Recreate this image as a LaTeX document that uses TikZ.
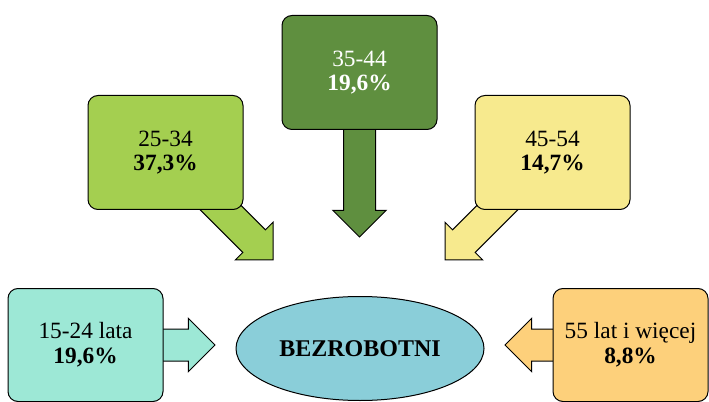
\documentclass[tikz,border=0pt]{standalone}
\usepackage{fontspec}
\setmainfont{Liberation Serif}
\usepackage{tikz}
\usetikzlibrary{calc}
\usetikzlibrary{shapes.geometric}
\tikzset{every picture/.style={line width=0.75pt}}
\definecolor{mint}{RGB}{157,232,214}
\definecolor{lime}{RGB}{164,207,80}
\definecolor{olive}{RGB}{95,143,63}
\definecolor{sand}{RGB}{247,234,142}
\definecolor{apricot}{RGB}{253,208,123}
\definecolor{lagoon}{RGB}{138,206,217}
% block arrow from #1 to #2, filled with #3
\newcommand{\blockarrow}[3]{%
  \draw[fill=#3] ($(#1)!12pt!90:(#2)$) -- ($(#2)!20pt!(#1)!12pt!-90:(#1)$)
    -- ($(#2)!20pt!(#1)!20pt!-90:(#1)$) -- (#2)
    -- ($(#2)!20pt!(#1)!20pt!90:(#1)$) -- ($(#2)!20pt!(#1)!12pt!90:(#1)$)
    -- ($(#1)!12pt!-90:(#2)$) -- cycle;}
\tikzset{agebox/.style={draw, rounded corners=7.5pt, minimum width=116.25pt,
    minimum height=85.5pt, align=center, inner sep=0.75pt,
    font=\fontsize{17.5}{18.5}\selectfont}}

\begin{document}
\begin{tikzpicture}[x=0.75pt,y=0.75pt,yscale=-1,xscale=1]
\useasboundingbox (0,0) rectangle (709,402);

%Box centres and arrow tips
\coordinate (c1524) at (85.5,345);
\coordinate (c2534) at (165.5,152.5);
\coordinate (c3544) at (359.5,72.5);
\coordinate (c4554) at (552.5,152.5);
\coordinate (c55) at (630.5,345);
\coordinate (tip1524) at (215,345);
\coordinate (tip2534) at (273,260);
\coordinate (tip3544) at (359.5,237);
\coordinate (tip4554) at (445,260);
\coordinate (tip55) at (505,345);

%Block Arrows
\blockarrow{c1524}{tip1524}{mint}
\blockarrow{c2534}{tip2534}{lime}
\blockarrow{c3544}{tip3544}{olive}
\blockarrow{c4554}{tip4554}{sand}
\blockarrow{c55}{tip55}{apricot}

% Text Node
\node[agebox, fill=mint, minimum height=84.75pt] (n1524) at (c1524) {15-24 lata\\\textbf{19,6\%}};
% Text Node
\node[agebox, fill=lime] (n2534) at (c2534) {25-34\\\textbf{37,3\%}};
% Text Node
\node[agebox, fill=olive, text=white] (n3544) at (c3544) {35-44\\\textbf{19,6\%}};
% Text Node
\node[agebox, fill=sand] (n4554) at (c4554) {45-54\\\textbf{14,7\%}};
% Text Node
\node[agebox, fill=apricot, minimum height=84.75pt] (n55) at (c55) {55 lat i więcej\\\textbf{8,8\%}};
% Ellipse
\node[draw, ellipse, fill=lagoon, minimum width=186pt, minimum height=78pt,
  font=\fontsize{18}{20}\selectfont\bfseries] (bezr) at (360,348.5) {BEZROBOTNI};

\end{tikzpicture}
\end{document}
